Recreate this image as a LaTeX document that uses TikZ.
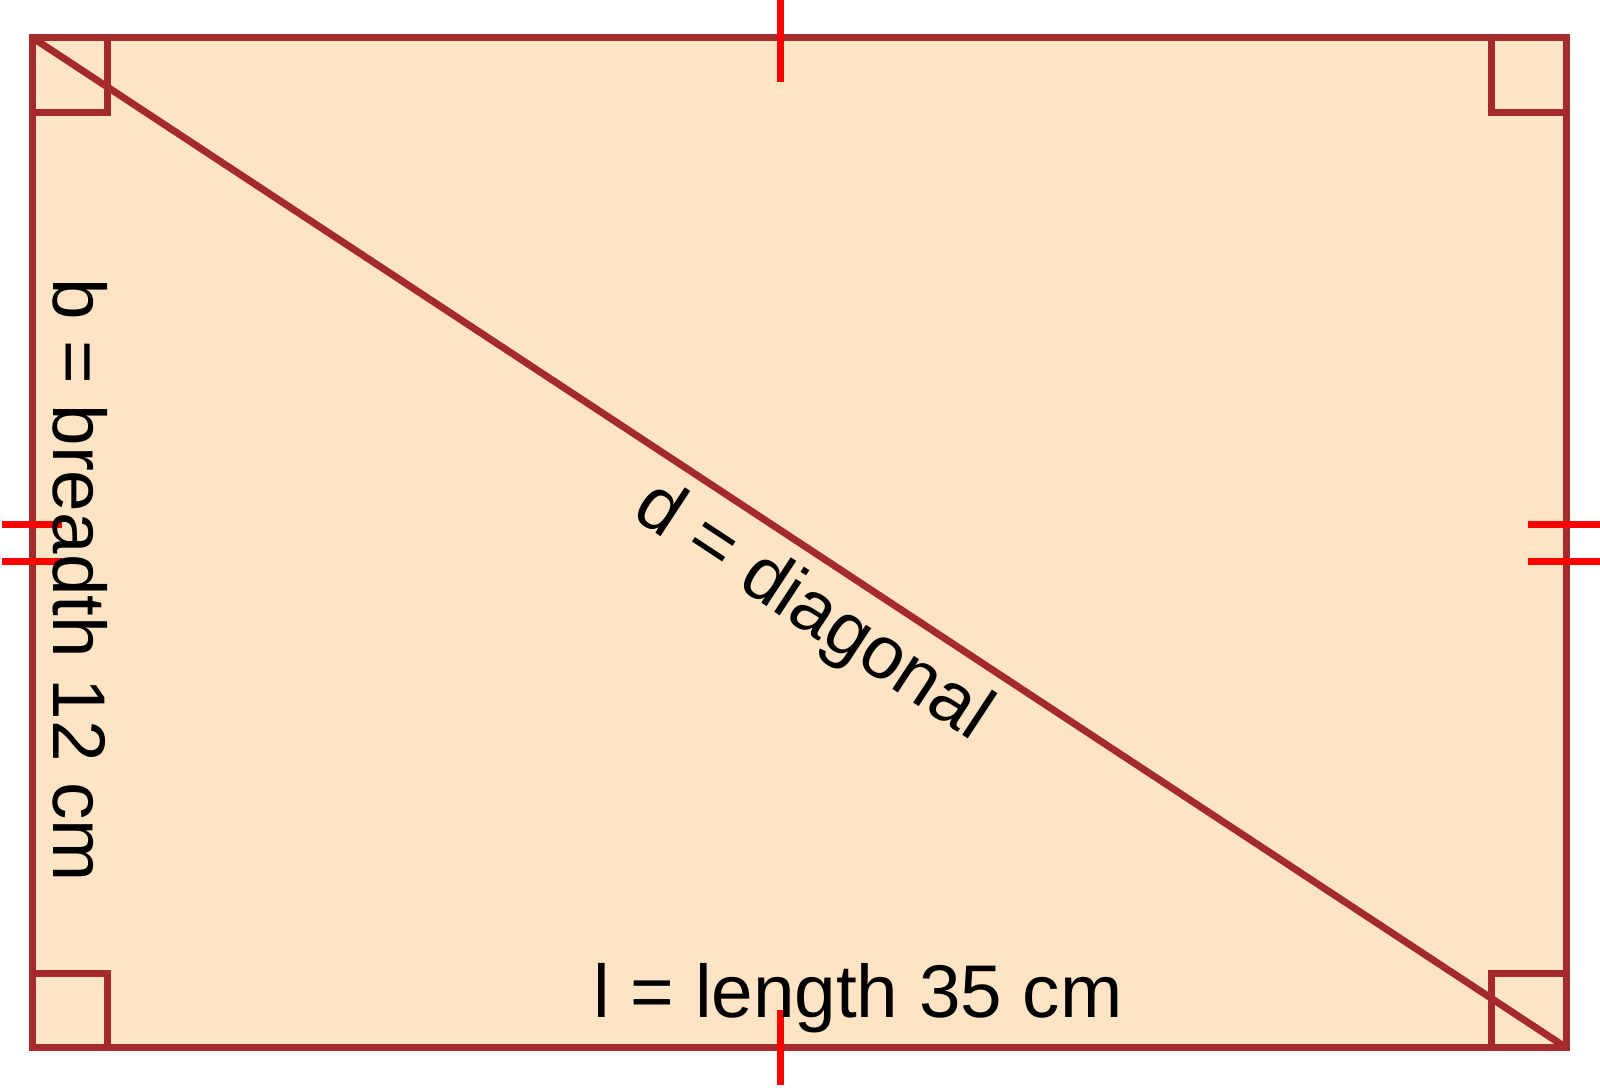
\documentclass[tikz,border=0pt]{standalone}
\usepackage{fontspec}
\setmainfont{Liberation Sans}

\begin{document}
\begin{tikzpicture}[x=0.75pt,y=0.75pt,yscale=-1,xscale=1,
	rimline/.style={draw={rgb, 255:red, 165; green, 42; blue, 42 },line width=5.25pt},
	redtick/.style={draw={rgb, 255:red, 255; green, 0; blue, 0 },line width=5.25pt},
	bigtext/.style={font=\fontsize{56}{67}\selectfont,inner sep=0pt}]
	\useasboundingbox (0,0) rectangle (1600,1090);
	
	%Corners of the rectangle
	\coordinate (tl) at (32.5,37.7);
	\coordinate (tr) at (1566,37.7);
	\coordinate (bl) at (32.5,1047.5);
	\coordinate (br) at (1566,1047.5);
	
	%Shape: Rectangle fill
	\fill [fill={rgb, 255:red, 253; green, 228; blue, 196 }] (tl) rectangle (br);
	
	%Right angle marks
	\draw [rimline] (tl) ++(0,74.5) -| ++(74.5,-74.5);
	\draw [rimline] (tr) ++(0,74.5) -| ++(-74.5,-74.5);
	\draw [rimline] (bl) ++(0,-74.5) -| ++(74.5,74.5);
	\draw [rimline] (br) ++(0,-74.5) -| ++(-74.5,74.5);
	
	%Straight Lines: diagonal
	\draw [rimline] (tl) -- (br);
	
	%Shape: Rectangle outline
	\draw [rimline] (tl) rectangle (br);
	
	%Tick marks for equal sides
	\draw [redtick] (780,-6) -- (780,82);
	\draw [redtick] (780,1010) -- (780,1085);
	\draw [redtick] (2,524) -- (62,524);
	\draw [redtick] (2,561) -- (62,561);
	\draw [redtick] (1528,524) -- (1604,524);
	\draw [redtick] (1528,561) -- (1604,561);
	
	%Labels
	\node [bigtext,anchor=base] (lenlabel) at (858,1017) {l = length 35 cm};
	\node [bigtext,anchor=base,rotate=-90] (brlabel) at (53,580) {b = breadth 12 cm};
	\node [bigtext,rotate=-33.36] (diaglabel) at (812,613) {d = diagonal};
	
\end{tikzpicture}
\end{document}
